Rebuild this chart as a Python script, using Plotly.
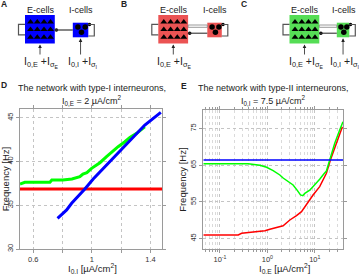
import plotly.graph_objects as go

W, H = 359, 274

# ---------------- Panel D data (type-I interneurons) ----------------
d_green_x = [0.51, 0.543, 0.714, 0.727, 0.802, 0.864, 0.918, 0.939, 0.966, 0.998,
             1.032, 1.055, 1.100, 1.145, 1.179, 1.225, 1.259, 1.305, 1.339, 1.361]
d_green_y = [37.43, 37.62, 37.62, 37.88, 37.88, 38.01, 38.26, 38.57, 38.72, 39.22,
             39.60, 39.86, 40.55, 41.23, 41.69, 42.26, 42.76, 43.22, 43.68, 43.97]
d_blue_x = [0.766, 0.828, 0.862, 0.918, 0.952, 1.009, 1.143, 1.282, 1.361, 1.470]
d_blue_y = [33.51, 34.46, 35.22, 36.17, 36.86, 38.00, 40.38, 42.83, 44.17, 45.62]
d_red_x = [0.51, 1.478]
d_red_y = [36.85, 36.85]
d_xticks = [0.6, 0.8, 1.0, 1.2, 1.4]
d_xticktext = ["0.6", "", "1", "", "1.4"]
d_yticks = [30, 35, 40, 45]

# ---------------- Panel E data (type-II interneurons) ----------------
e_green_x = [0.0445, 0.394, 0.695, 0.962, 1.324, 1.833, 2.15, 2.74, 3.49, 4.24,
             5.0, 5.6, 6.16, 7.85, 10.0, 12.7, 15.5, 17.6, 20.7, 26.4, 33.6, 39.4]
e_green_y = [65.41, 65.41, 64.97, 64.43, 63.50, 62.33, 61.5, 60.5, 59.6, 58.2,
             56.9, 56.7, 57.3, 58.2, 59.6, 61.2, 62.6, 63.4, 66.4, 70.97, 74.6, 76.86]
e_red_x = [0.0445, 0.243, 0.286, 0.428, 0.592, 0.886, 1.129, 1.562, 2.15, 2.98,
           3.23, 4.12, 5.25, 6.16, 7.22, 9.21, 12.7, 17.6, 21.4, 26.4, 38.3]
e_red_y = [45.97, 45.97, 46.43, 46.70, 46.97, 47.14, 47.52, 48.07, 48.50, 50.06,
           50.33, 51.23, 52.32, 53.68, 55.05, 56.87, 59.14, 62.79, 66.42, 69.6, 75.5]
e_blue_x = [0.0445, 39.4]
e_blue_y = [66.42, 66.42]
e_xticks = [0.1, 1, 10]
e_xticktext = ["10<sup>-1</sup>", "10<sup>0</sup>", "10<sup>1</sup>"]
e_minor = [m * 10 ** k for k in (-2, -1, 0, 1) for m in range(2, 10)]
e_yticks = [45, 55, 65, 75]

FONT = "Liberation Sans, Arial, sans-serif"
GRID = "#c4c4c4"
LINE = "#9a9a9a"

fig = go.Figure()

# Panel D traces
fig.add_trace(go.Scatter(x=d_red_x, y=d_red_y, mode="lines",
                         line=dict(color="#FF0000", width=3), xaxis="x", yaxis="y"))
fig.add_trace(go.Scatter(x=d_green_x, y=d_green_y, mode="lines",
                         line=dict(color="#00FF00", width=3), xaxis="x", yaxis="y"))
fig.add_trace(go.Scatter(x=d_blue_x, y=d_blue_y, mode="lines",
                         line=dict(color="#0000FF", width=3), xaxis="x", yaxis="y"))

# Panel E traces
fig.add_trace(go.Scatter(x=e_red_x, y=e_red_y, mode="lines",
                         line=dict(color="#FF0000", width=1.5), xaxis="x2", yaxis="y2"))
fig.add_trace(go.Scatter(x=e_green_x, y=e_green_y, mode="lines",
                         line=dict(color="#00FF00", width=1.5), xaxis="x2", yaxis="y2"))
fig.add_trace(go.Scatter(x=e_blue_x, y=e_blue_y, mode="lines",
                         line=dict(color="#0000FF", width=1.5), xaxis="x2", yaxis="y2"))

# ---------------- Diagrams A, B, C (pixel overlay axes) ----------------
diagrams = [
    # (E-box left, I-box left, I-box width, colour, single connection, I input)
    (25.0, 72.8, 15.5, "#0000FF", True, True),
    (158.3, 207.3, 14.5, "#EB5353", False, False),
    (289.5, 336.8, 12.5, "#55DD55", False, True),
]
shapes = []
annots = []
tri_x, tri_y, circ_x, circ_y, dot_x, dot_y = [], [], [], [], [], []
for (x0, xi, wi, col, single, iin) in diagrams:
    xe = x0 + 29.8
    xr = xi + wi
    shapes.append(dict(type="rect", xref="x3", yref="y3", x0=x0, x1=xe, y0=15, y1=43.5,
                       fillcolor=col, line=dict(width=0), layer="below"))
    shapes.append(dict(type="rect", xref="x3", yref="y3", x0=xi, x1=xr, y0=22.7, y1=37.3,
                       fillcolor=col, line=dict(width=0), layer="below"))
    for cx in (5.5, 12.3, 19.0, 25.5):
        for cy in (22.0, 29.6, 37.2):
            tri_x.append(x0 + cx)
            tri_y.append(cy)
    for fx, cy in ((0.33, 27.0), (0.8, 27.0), (0.56, 32.3)):
        circ_x.append(xi + fx * wi)
        circ_y.append(cy)
    # E self loop
    shapes.append(dict(type="path", xref="x3", yref="y3",
                       path=f"M {x0},24.3 L {x0-6.5},24.3 L {x0-6.5},34.8 L {x0},34.8",
                       line=dict(color="#555555", width=1.2)))
    # I self loop
    shapes.append(dict(type="path", xref="x3", yref="y3",
                       path=f"M {xr},24.5 L {xr+6},24.5 L {xr+6},36 L {xr},36",
                       line=dict(color="#555555", width=1.2)))
    dot_x.append(xr + 1.2)
    dot_y.append(24.5)
    if single:
        shapes.append(dict(type="line", xref="x3", yref="y3", x0=xe, x1=xi, y0=30, y1=30,
                           line=dict(color="#444444", width=1.3)))
        dot_x.append(xe + 1.6)
        dot_y.append(30)
    else:
        shapes.append(dict(type="rect", xref="x3", yref="y3", x0=xe, x1=xi, y0=25.0, y1=27.3,
                           fillcolor="white", line=dict(color="#808080", width=0.8)))
        shapes.append(dict(type="line", xref="x3", yref="y3", x0=xe, x1=xi, y0=33.2, y1=33.2,
                           line=dict(color="#333333", width=1.1)))
        dot_x.append(xe + 1.6)
        dot_y.append(33.2)
    # labels
    annots.append(dict(text="E-cells", xref="x3", yref="y3", x=x0 + 15.5, y=10,
                       showarrow=False, font=dict(size=9, family=FONT, color="#222")))
    annots.append(dict(text="I-cells", xref="x3", yref="y3", x=xi + wi / 2 + 0.5, y=10,
                       showarrow=False, font=dict(size=9, family=FONT, color="#222")))
    # inputs
    annots.append(dict(text="", xref="x3", yref="y3", x=x0 + 15, y=44.5,
                       axref="x3", ayref="y3", ax=x0 + 15, ay=56, showarrow=True,
                       arrowhead=2, arrowsize=0.9, arrowwidth=0.8, arrowcolor="#222"))
    annots.append(dict(text="I<sub>0,E</sub> +I<sub>σ<sub>E</sub></sub>", xref="x3", yref="y3",
                       x=x0 + 16, y=62.5, showarrow=False,
                       font=dict(size=10.5, family=FONT, color="#222")))
    if iin:
        annots.append(dict(text="", xref="x3", yref="y3", x=xi + wi / 2, y=38.3,
                           axref="x3", ayref="y3", ax=xi + wi / 2, ay=56, showarrow=True,
                           arrowhead=2, arrowsize=0.9, arrowwidth=0.8, arrowcolor="#222"))
        annots.append(dict(text="I<sub>0,I</sub> +I<sub>σ<sub>I</sub></sub>", xref="x3", yref="y3",
                           x=xi + wi / 2 + 1.5, y=62.5, showarrow=False,
                           font=dict(size=10.5, family=FONT, color="#222")))

fig.add_trace(go.Scatter(x=tri_x, y=tri_y, mode="markers", xaxis="x3", yaxis="y3",
                         marker=dict(symbol="triangle-up", size=6, color="black")))
fig.add_trace(go.Scatter(x=circ_x, y=circ_y, mode="markers", xaxis="x3", yaxis="y3",
                         marker=dict(symbol="circle", size=5.5, color="black")))
fig.add_trace(go.Scatter(x=dot_x, y=dot_y, mode="markers", xaxis="x3", yaxis="y3",
                         marker=dict(symbol="circle", size=3.5, color="black")))


def P(x, y):
    return x / W, 1 - y / H


def txt(s, x, y, size=8.5, bold=False):
    px, py = P(x, y)
    return dict(text=f"<b>{s}</b>" if bold else s, xref="paper", yref="paper", x=px, y=py,
                xanchor="center", yanchor="middle", showarrow=False,
                font=dict(size=size, family=FONT, color="#222"))


annots += [
    txt("A", 4, 4, 8.5, True), txt("B", 124, 4, 8.5, True), txt("C", 244, 4, 8.5, True),
    txt("D", 4, 85, 8.5, True), txt("E", 184, 86, 8.5, True),
    txt("The network with type-I interneurons,", 91.5, 88, 9),
    txt("I<sub>0,E</sub> = 2 µA/cm<sup>2</sup>", 91.5, 100, 9),
    txt("The network with type-II interneurons,", 273, 88, 9),
    txt("I<sub>0,I</sub> = 7.5 µA/cm<sup>2</sup>", 273, 100, 9),
    txt("I<sub>0,I</sub> [µA/cm<sup>2</sup>]", 92.5, 268.5, 9.5),
    txt("I<sub>0,E</sub> [µA/cm<sup>2</sup>]", 284, 268, 9.5),
]

axcommon = dict(showgrid=True, gridcolor=GRID, griddash="dot", gridwidth=1,
                ticks="outside", ticklen=3, tickcolor=LINE, showline=True,
                linecolor=LINE, linewidth=1, mirror="ticks", zeroline=False,
                automargin=False,
                tickfont=dict(size=7.5, family=FONT, color="#333"), fixedrange=True)
ytitle = dict(text="Frequency [Hz]", font=dict(size=9.5, family=FONT, color="#222"), standoff=0)

fig.update_layout(
    width=W, height=H, margin=dict(l=0, r=0, t=0, b=0),
    paper_bgcolor="white", plot_bgcolor="rgba(0,0,0,0)", showlegend=False,
    xaxis=dict(domain=[20 / W, 162 / W], range=[0.51, 1.478], anchor="y",
               tickvals=d_xticks, ticktext=d_xticktext, **axcommon),
    yaxis=dict(domain=[1 - 249 / H, 1 - 109 / H], range=[30, 46.0], anchor="x",
               tickvals=d_yticks, tickangle=-90, title=ytitle, **axcommon),
    xaxis2=dict(domain=[203.3 / W, 343 / W], type="log", range=[-1.352, 1.596], anchor="y2",
                tickvals=e_xticks, ticktext=e_xticktext,
                minor=dict(tickvals=e_minor, showgrid=True, gridcolor="#dadada",
                           griddash="dot", ticks="outside", ticklen=2, tickcolor=LINE),
                **axcommon),
    yaxis2=dict(domain=[1 - 249.3 / H, 1 - 110 / H], range=[42.07, 80.05], anchor="x2",
                tickvals=e_yticks, tickangle=-90, title=ytitle, **axcommon),
    xaxis3=dict(domain=[0, 1], range=[0, W], anchor="y3", visible=False, fixedrange=True),
    yaxis3=dict(domain=[0, 1], range=[H, 0], anchor="x3", visible=False, fixedrange=True),
    shapes=shapes, annotations=annots,
)

fig.write_html("out.html", config={"displayModeBar": False},
               post_script="document.body.style.margin='0';document.body.style.overflow='hidden';")
